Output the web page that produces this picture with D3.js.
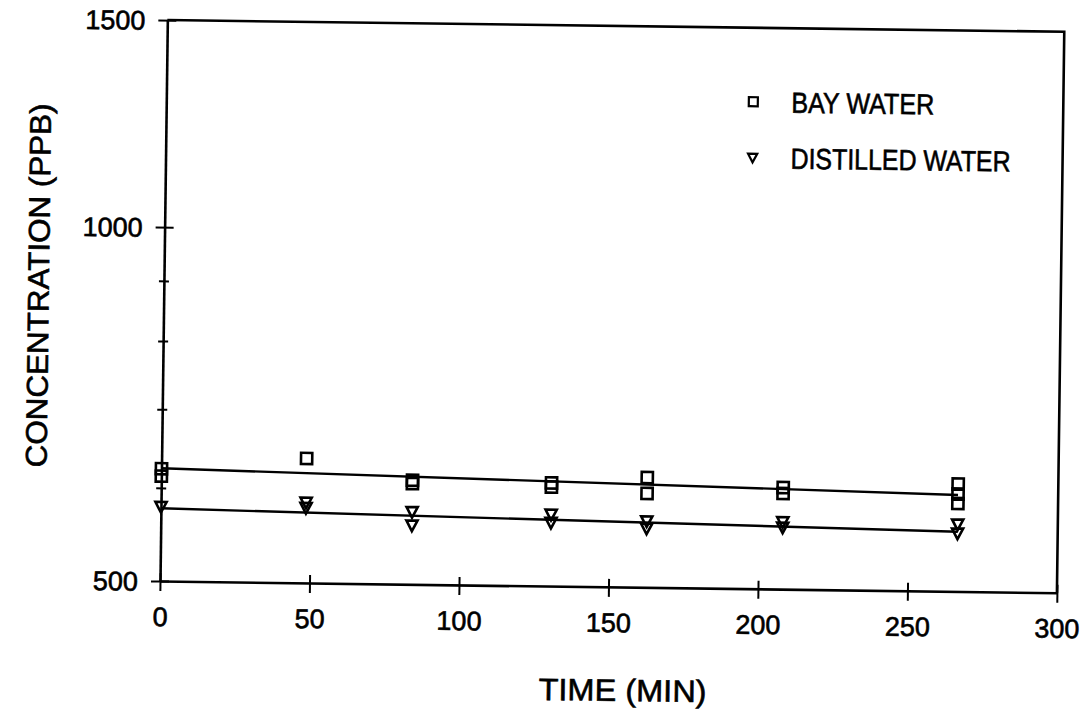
<!DOCTYPE html>
<html>
<head>
<meta charset="utf-8">
<script src="https://cdn.jsdelivr.net/npm/d3@7"></script>
<style>
  html, body { margin: 0; padding: 0; background: #fff; }
  svg { display: block; }
  text { font-family: "Liberation Sans", Arial, Helvetica, sans-serif; fill: #000; stroke: #000; stroke-width: 0.6px; }
</style>
</head>
<body>
<svg id="chart" width="1088" height="711"></svg>
<script>
// Axis ticks
const timeTicks = [0, 50, 100, 150, 200, 250, 300];
const concMajorTicks = [500, 1000, 1500];
const concMinorTicks = [600, 700, 800, 900];

const seriesNames = ["BAY WATER", "DISTILLED WATER"];

// Bay water samples: time (min) and concentration (ppb)
const bayTime = [0, 0, 48.5, 84, 84, 130.5, 130.5, 162.5, 162.5, 208, 208, 266.5, 266.5, 266.5];
const bayConc = [623, 614, 638, 613, 609, 612, 607, 620, 601, 610, 603, 617, 605, 594];

// Distilled water samples
const distTime = [0, 48.5, 48.5, 84, 84, 130.5, 130.5, 162.5, 162.5, 208, 208, 266.5, 266.5];
const distConc = [578, 585, 579, 576, 561, 575, 566, 569, 561, 570, 564, 570, 560];

// Fitted first-order decay lines (end points)
const bayFitTime = [0, 266.5];
const bayFitConc = [623.5, 604];
const distFitTime = [0, 266.5];
const distFitConc = [576.5, 562];

const svg = d3.select("#chart");

const x = d3.scaleLinear().domain([0, 300]).range([160, 1057]);
const y = d3.scaleLog().domain([500, 1500]).range([581, 20]);

// whole plot sits slightly tilted on the page
const g = svg.append("g").attr("transform", "rotate(0.75,160,581)");

// frame: top and right edges
g.append("path")
  .attr("d", `M${x(0)},${y(1500)}H${x(300)}V${y(500)}`)
  .attr("fill", "none").attr("stroke", "#000").attr("stroke-width", 2.6);

// x axis
const xAxis = g.append("g")
  .attr("transform", `translate(0,${y(500)})`)
  .call(d3.axisBottom(x).tickValues(timeTicks).tickSizeInner(10).tickSizeOuter(0));
xAxis.attr("font-family", null).attr("font-size", null);
xAxis.select(".domain").attr("stroke-width", 2.6).attr("stroke", "#000");
xAxis.selectAll(".tick line").attr("y1", -8).attr("stroke-width", 2).attr("stroke", "#000");
xAxis.selectAll(".tick text")
  .attr("y", 26).attr("dy", "0.71em")
  .style("font-size", "27px").attr("fill", "#000");

// y axis (log)
const allConcTicks = concMajorTicks.concat(concMinorTicks);
const yAxis = g.append("g")
  .attr("transform", `translate(${x(0)},0)`)
  .call(d3.axisLeft(y).tickValues(allConcTicks)
    .tickFormat(d => concMajorTicks.includes(d) ? String(d) : "")
    .tickSizeOuter(0));
yAxis.attr("font-family", null).attr("font-size", null);
yAxis.select(".domain").attr("stroke-width", 2.6).attr("stroke", "#000");
yAxis.selectAll(".tick line")
  .attr("stroke", "#000").attr("stroke-width", 2)
  .attr("x1", d => concMajorTicks.includes(d) ? 9 : 5)
  .attr("x2", d => concMajorTicks.includes(d) ? -9 : -5);
yAxis.selectAll(".tick text")
  .attr("x", -22).attr("dy", "0.35em")
  .style("font-size", "27px").attr("fill", "#000");

// axis titles
g.append("text")
  .attr("x", 624).attr("y", 695)
  .attr("text-anchor", "middle")
  .style("font-size", "31px")
  .attr("textLength", 168).attr("lengthAdjust", "spacingAndGlyphs")
  .text("TIME (MIN)");

g.append("text")
  .attr("transform", "translate(45,287) rotate(-90)")
  .attr("text-anchor", "middle")
  .style("font-size", "30px")
  .attr("textLength", 364).attr("lengthAdjust", "spacingAndGlyphs")
  .text("CONCENTRATION (PPB)");

// fitted lines
const line = d3.line().x(d => x(d[0])).y(d => y(d[1]));
g.append("path")
  .datum(bayFitTime.map((t, i) => [t, bayFitConc[i]]))
  .attr("d", line).attr("fill", "none").attr("stroke", "#000").attr("stroke-width", 2.4);
g.append("path")
  .datum(distFitTime.map((t, i) => [t, distFitConc[i]]))
  .attr("d", line).attr("fill", "none").attr("stroke", "#000").attr("stroke-width", 2.4);

// markers
const squarePath = "M-5.6,-5.6H5.6V5.6H-5.6Z";
const trianglePath = "M-5.6,-5H5.6L0,5.6Z";

g.append("g").selectAll("path")
  .data(bayTime.map((t, i) => [t, bayConc[i]]))
  .join("path")
  .attr("d", squarePath)
  .attr("transform", d => `translate(${x(d[0])},${y(d[1])})`)
  .attr("fill", "none").attr("stroke", "#000").attr("stroke-width", 2.6);

g.append("g").selectAll("path")
  .data(distTime.map((t, i) => [t, distConc[i]]))
  .join("path")
  .attr("d", trianglePath)
  .attr("transform", d => `translate(${x(d[0])},${y(d[1])})`)
  .attr("fill", "none").attr("stroke", "#000").attr("stroke-width", 2.6)
  .attr("stroke-linejoin", "miter");

// legend
const legend = g.append("g");
const legendRows = [
  { name: seriesNames[0], shape: "M-4.5,-4.5H4.5V4.5H-4.5Z", ly: 94, len: 143 },
  { name: seriesNames[1], shape: "M-4.6,-4H4.6L0,4.6Z", ly: 150, len: 220 }
];
legendRows.forEach(r => {
  legend.append("path")
    .attr("d", r.shape)
    .attr("transform", `translate(747,${r.ly})`)
    .attr("fill", "none").attr("stroke", "#000").attr("stroke-width", 2.2);
  legend.append("text")
    .attr("x", 785).attr("y", r.ly).attr("dy", "0.36em")
    .style("font-size", "29px")
    .attr("textLength", r.len).attr("lengthAdjust", "spacingAndGlyphs")
    .text(r.name);
});
</script>
</body>
</html>
